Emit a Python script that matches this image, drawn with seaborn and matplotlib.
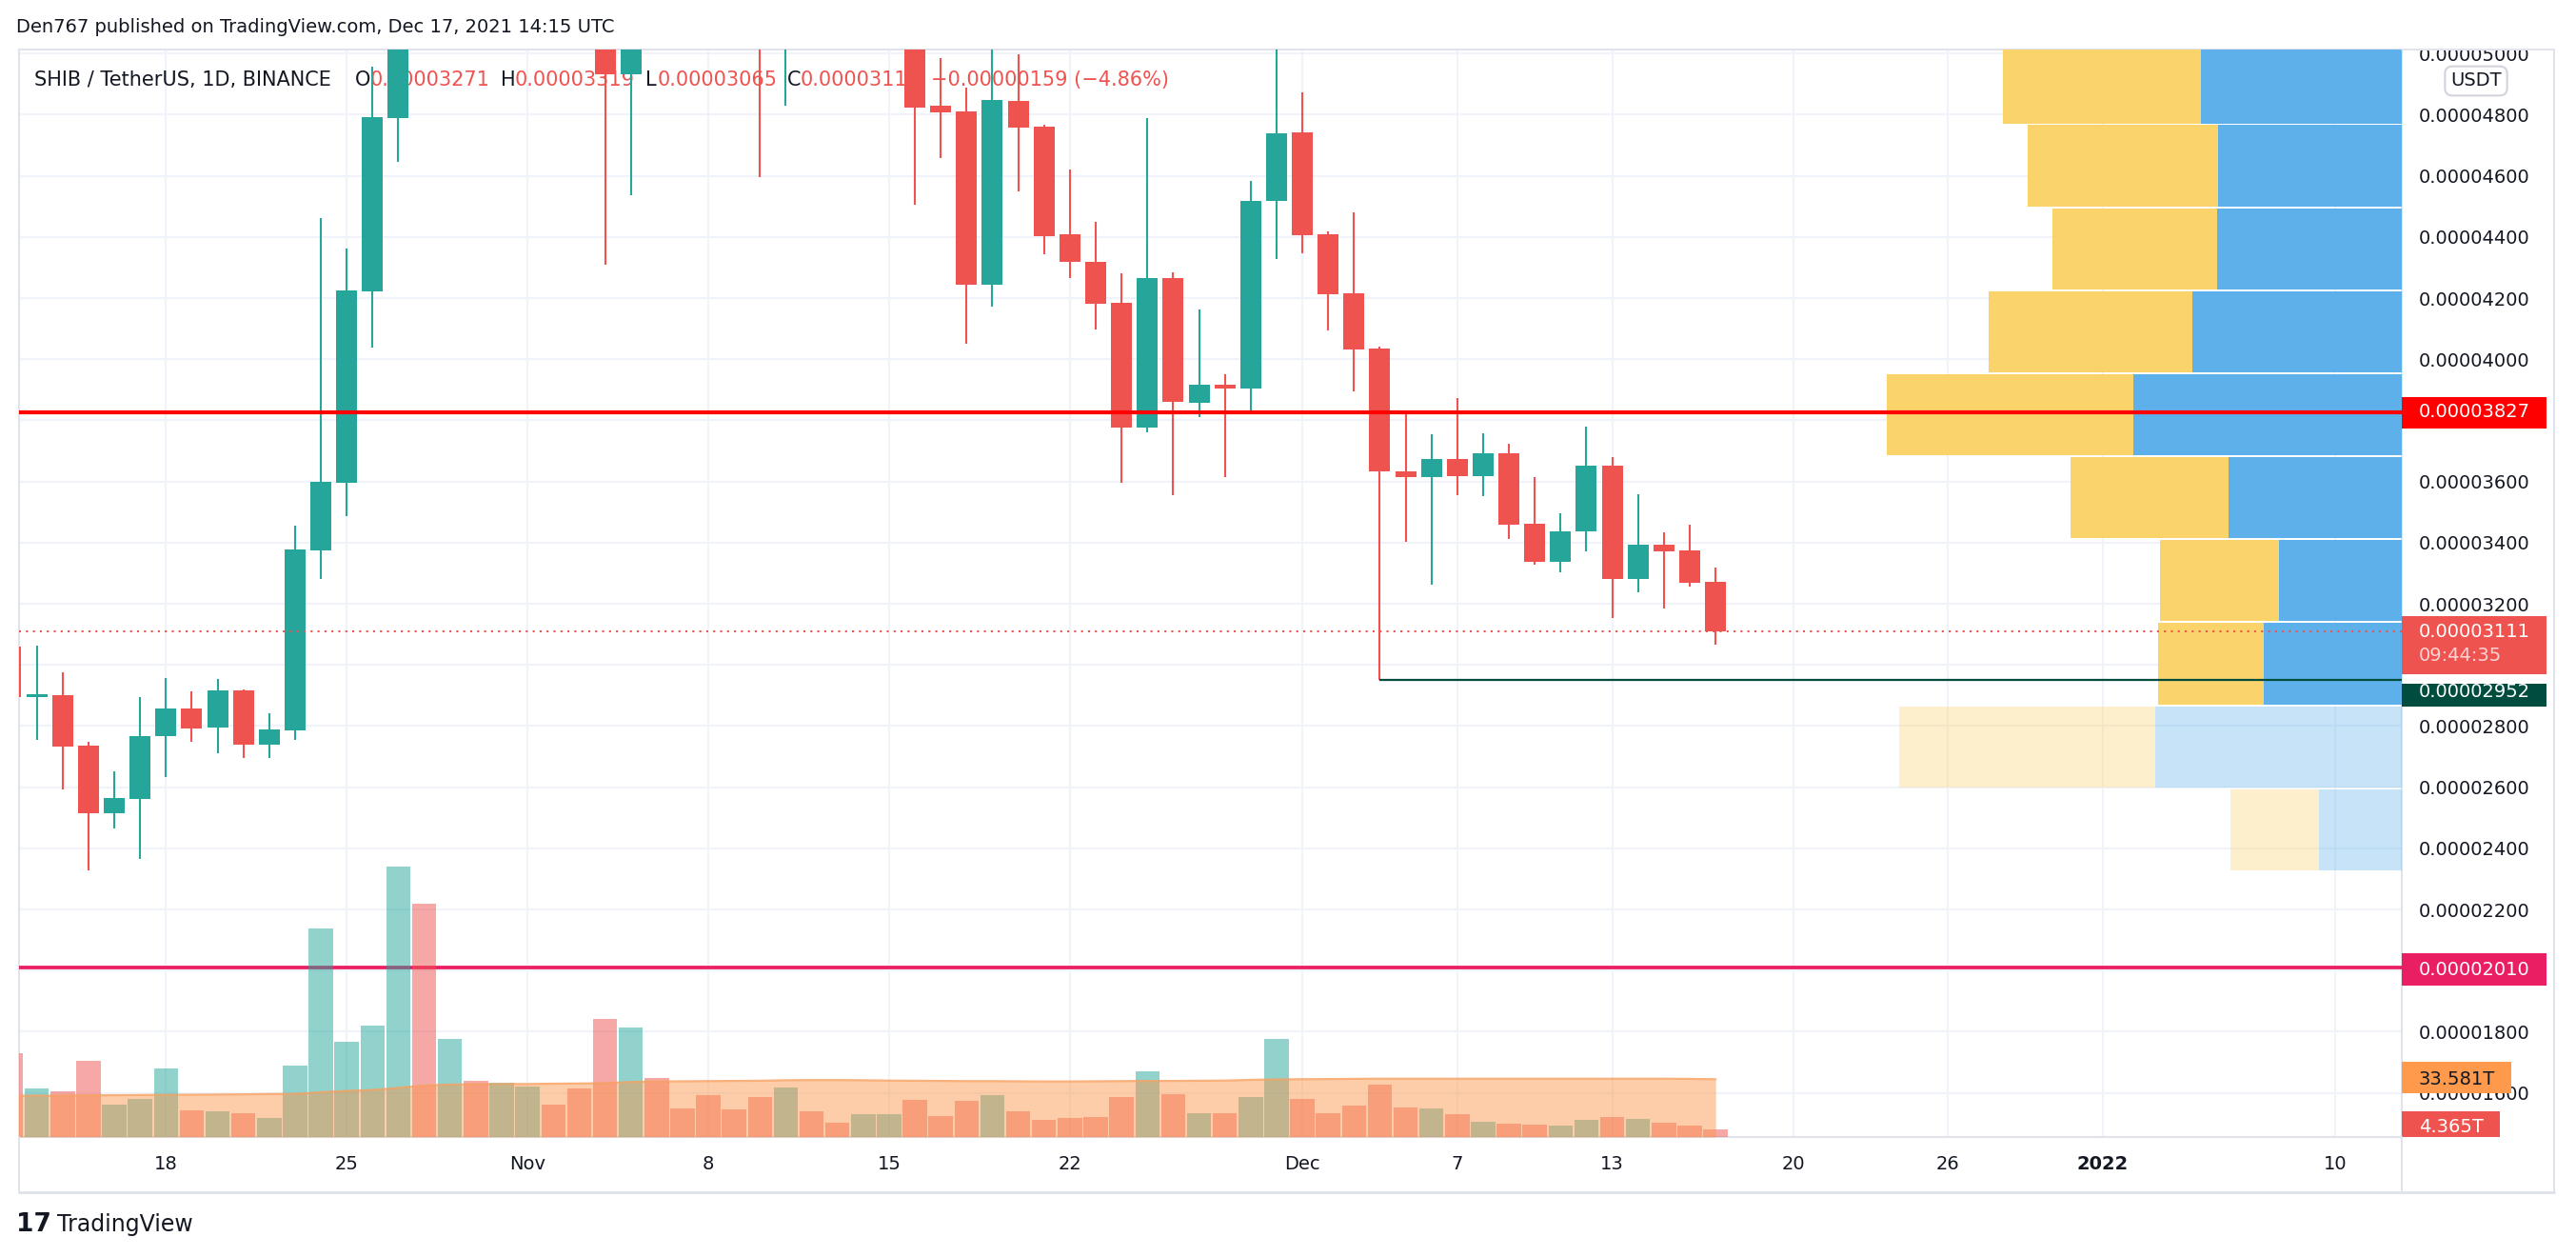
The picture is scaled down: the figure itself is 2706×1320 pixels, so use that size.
import numpy as np
import pandas as pd
import matplotlib
matplotlib.use("Agg")
import matplotlib.pyplot as plt
import matplotlib.dates as mdates
from matplotlib.lines import Line2D
from matplotlib.patches import Rectangle
from matplotlib.transforms import blended_transform_factory
import seaborn as sns

sns.set_theme(style="white")
plt.rcParams['font.family'] = ['DejaVu Sans']

# ---------------- data (prices in 1e-8 USDT, volume in trillions) ----------------
dates = pd.date_range("2021-10-12", "2021-12-17", freq="D")

open_p = [3061, 2896, 2901, 2735, 2515, 2562, 2767, 2857, 2796, 2916, 2740, 2786, 3376, 3597, 4223, 4790, 6900, 6650, 7000, 6700,
          6900, 7000, 6800, 6050, 4932, 5350, 5250, 5200, 5150, 5100, 5030, 5180, 5100, 5080, 5150, 5250, 4828, 4811, 4243, 4844,
          4761, 4409, 4319, 4184, 3776, 4266, 3857, 3917, 3904, 4517,
          4741, 4409, 4216, 4035, 3633, 3615, 3673, 3619, 3691, 3462, 3337, 3437, 3651, 3281, 3392, 3374, 3271]
high_p = [3150, 3064, 2977, 2749, 2653, 2895, 2957, 2913, 2953, 2920, 2843, 3454, 4461, 4362, 4957, 7200, 8845, 7300, 7150, 7100,
          7300, 7150, 6950, 6150, 5600, 5500, 5400, 5450, 5300, 5250, 5250, 5300, 5200, 5250, 5400, 5300, 4985, 4890, 5060, 4997,
          4768, 4620, 4449, 4281, 4789, 4285, 4164, 3950, 4583, 5060,
          4872, 4417, 4480, 4042, 3826, 3754, 3872, 3757, 3723, 3613, 3495, 3779, 3679, 3558, 3433, 3458, 3319]
low_p = [2860, 2753, 2593, 2328, 2465, 2365, 2633, 2748, 2712, 2695, 2695, 2755, 3281, 3487, 4039, 4647, 6000, 6250, 6450, 6300,
         6400, 6600, 5950, 4310, 4537, 5150, 5100, 5100, 5050, 4597, 4830, 5040, 5030, 5040, 5080, 4506, 4659, 4049, 4171, 4548,
         4344, 4266, 4097, 3597, 3761, 3555, 3811, 3613, 3828, 4328,
         4346, 4095, 3896, 2952, 3402, 3263, 3555, 3552, 3412, 3327, 3302, 3371, 3152, 3237, 3184, 3256, 3065]
close_p = [2896, 2900, 2734, 2515, 2564, 2767, 2857, 2792, 2916, 2740, 2788, 3377, 3598, 4224, 4791, 6900, 6650, 7000, 6700, 6900,
           7000, 6800, 6050, 4932, 5350, 5250, 5200, 5150, 5100, 5030, 5180, 5100, 5080, 5150, 5250, 4823, 4808, 4243, 4847, 4757,
           4402, 4319, 4181, 3776, 4266, 3860, 3917, 3905, 4517, 4739,
           4406, 4213, 4033, 3632, 3615, 3673, 3619, 3691, 3458, 3337, 3437, 3651, 3281, 3392, 3371, 3270, 3111]

volume = [48.5, 28.0, 26.4, 44.1, 18.6, 22.0, 39.7, 15.3, 14.8, 13.7, 10.9, 41.3, 121.0, 55.2, 64.6, 157.0, 135.4, 56.8, 32.5, 31.4,
          29.2, 18.6, 28.0, 68.5, 63.5, 34.1, 16.4, 24.2, 15.9, 23.1, 28.6, 14.8, 8.1, 13.1, 13.1, 21.4, 12.0, 20.8, 24.2, 14.8,
          9.8, 10.9, 11.4, 23.1, 38.0, 24.7, 13.7, 13.7, 23.1, 56.8,
          22.0, 13.7, 18.1, 30.3, 17.0, 16.4, 13.1, 8.7, 7.6, 7.0, 6.5, 9.8, 11.4, 10.3, 8.1, 6.5, 4.365]
volume_ma = [24.0, 24.0, 24.1, 24.2, 24.3, 24.4, 24.5, 24.6, 24.7, 24.8, 25.0, 25.1, 26.0, 26.8, 27.3, 28.6, 29.9, 30.5, 30.7, 30.8,
             30.8, 31.0, 31.1, 31.3, 32.0, 32.3, 32.4, 32.5, 32.6, 32.7, 33.0, 33.1, 33.1, 33.0, 32.8, 32.7, 32.6, 32.5, 32.5, 32.4,
             32.3, 32.3, 32.4, 32.5, 32.6, 32.6, 32.7, 32.8, 33.2, 33.5,
             33.6, 33.7, 33.8, 33.9, 33.9, 33.9, 33.9, 33.9, 33.9, 33.9, 33.9, 33.9, 33.9, 33.9, 33.9, 33.8, 33.581]

# visible rows of the visible-range volume profile
vp_bottom = [2328, 2599.5, 2871, 3142.5, 3414, 3685.5, 3957, 4228.5, 4500, 4771.5]
vp_step = 271.5
vp_up = [8.7, 25.9, 14.5, 12.9, 18.2, 28.2, 22.0, 19.4, 19.3, 21.1]
vp_down = [9.3, 26.9, 11.1, 12.5, 16.6, 25.9, 21.4, 17.3, 20.0, 20.8]
vp_value_area = [False, False, True, True, True, True, True, True, True, True]

tick_dates = ["2021-10-18", "2021-10-25", "2021-11-01", "2021-11-08", "2021-11-15", "2021-11-22",
              "2021-12-01", "2021-12-07", "2021-12-13", "2021-12-20", "2021-12-26", "2022-01-01", "2022-01-10"]
tick_labels = ["18", "25", "Nov", "8", "15", "22", "Dec", "7", "13", "20", "26", "2022", "10"]
price_ticks = [1600, 1800, 2000, 2200, 2400, 2600, 2800, 3000, 3200, 3400, 3600, 3800,
               4000, 4200, 4400, 4600, 4800, 5000]
covered_ticks = [2000, 3000, 3800]   # hidden behind the price tags

resistance = 3827
support = 2010
swing_low = 2952
swing_low_date = "2021-12-04"
last_close = 3111

UP = "#26A69A"
DOWN = "#EF5350"
TXT = "#131722"
BORDER = "#E0E3EB"

# ---------------- figure ----------------
W, H = 2706, 1320
fig = plt.figure(figsize=(W / 100, H / 100), dpi=100, facecolor="white")


def fx(px):
    return px / W


def fy(py):
    return 1 - py / H


pane = [fx(20), fy(1194), fx(2523) - fx(20), fy(52) - fy(1194)]
ax = fig.add_axes(pane)
ax_vp = fig.add_axes(pane, sharey=ax)
ax_vol = fig.add_axes(pane, sharex=ax)
ax_c = fig.add_axes(pane, sharex=ax, sharey=ax)

xd = mdates.date2num(dates.to_pydatetime())
o = np.array(open_p)
h = np.array(high_p)
l = np.array(low_p)
c = np.array(close_p)
colors = np.where(c >= o, UP, DOWN)

xlim = (xd[0] + 0.313, xd[0] + 92.57)
ylim = (1455.5, 5013.1)

# base pane: grid + support line + legend text
ax.set_facecolor("white")
ax.set_xticks(mdates.date2num(pd.to_datetime(tick_dates).to_pydatetime()))
ax.set_xticklabels(tick_labels)
ax.set_yticks(price_ticks)
ax.set_yticklabels(["" if v in covered_ticks else f"{v / 1e8:.8f}" for v in price_ticks])
ax.yaxis.tick_right()
ax.grid(True, color="#F0F3FA", linewidth=1.5)
ax.set_axisbelow(True)
ax.tick_params(axis="y", length=0, pad=13, labelsize=14, colors=TXT)
ax.tick_params(axis="x", length=0, pad=14, labelsize=14, colors=TXT)
ax.get_xticklabels()[tick_labels.index("2022")].set_fontweight("bold")
for s in ax.spines.values():
    s.set_color(BORDER)
    s.set_linewidth(1.5)
ax.axhline(support, color="#E91E63", lw=2.7, zorder=3)

legend_parts = [("SHIB / TetherUS, 1D, BINANCE", 36, TXT), ("O", 373, TXT), ("0.00003271", 389, DOWN),
                ("H", 526, TXT), ("0.00003319", 541, DOWN), ("L", 678, TXT), ("0.00003065", 691, DOWN),
                ("C", 827, TXT), ("0.0000311", 841, DOWN), ("\u22120.00000159 (\u22124.86%)", 978, DOWN)]
for txt, px, col in legend_parts:
    ax.text(fx(px), fy(84), txt, transform=fig.transFigure, color=col, fontsize=15, va="center", ha="left")

# volume profile (right side)
ax_vp.axis("off")
up_cols = [(0.365, 0.69, 0.918, 1.0 if v else 0.35) for v in vp_value_area]
dn_cols = [(0.98, 0.827, 0.416, 1.0 if v else 0.35) for v in vp_value_area]
ax_vp.barh(vp_bottom, vp_up, height=vp_step - 6, align="edge", color=up_cols, lw=0)
ax_vp.barh(vp_bottom, vp_down, left=vp_up, height=vp_step - 6, align="edge", color=dn_cols, lw=0)
ax_vp.set_xlim(250.3, 0)

# volume with moving average area
ax_vol.axis("off")
ax_vol.bar(xd, volume, width=0.94, color=colors, alpha=0.5, lw=0)
ax_vol.fill_between(xd, volume_ma, 0, color="#FB9446", alpha=0.46, lw=0)
sns.lineplot(x=xd, y=volume_ma, ax=ax_vol, color="#F7A05F", lw=1.6, alpha=0.8)
ax_vol.set_ylim(0, 632)

# candles and price lines
ax_c.axis("off")
ax_c.vlines(xd, l, h, colors=colors, lw=1.5, zorder=2)
ax_c.bar(xd, np.maximum(np.abs(c - o), 7), bottom=np.minimum(o, c), width=0.81, color=colors, lw=0, zorder=3)
ax_c.axhline(resistance, color="#FF0000", lw=3, zorder=4)
ax_c.hlines(swing_low, mdates.date2num(pd.Timestamp(swing_low_date).to_pydatetime()), xlim[1],
            color="#004D40", lw=1.6, zorder=4)
ax_c.axhline(last_close, color=DOWN, lw=1.5, ls=(0, (1, 2.5)), zorder=4)

ax.set_xlim(*xlim)
ax.set_ylim(*ylim)
ax_vol.set_ylim(0, 632)


def tag(axis, value, text, face, fg="white", up_px=16, down_px=17, w_px=152, text_dy=0):
    tr = blended_transform_factory(ax.transAxes, axis.transData)
    y0, y1 = axis.get_ylim()
    per_px = (y1 - y0) / axis.bbox.height
    ax_c.add_patch(Rectangle((1.0, value - down_px * per_px), w_px / ax.bbox.width, (up_px + down_px) * per_px,
                             transform=tr, facecolor=face, edgecolor="none", clip_on=False, zorder=20))
    ax_c.text(1.0 + 18 / ax.bbox.width, value - text_dy * per_px, text, transform=tr, color=fg, fontsize=14,
              va="center", ha="left", clip_on=False, zorder=21)
    return tr, per_px


tag(ax, resistance, f"{resistance / 1e8:.8f}", "#FF0000", up_px=15.7, down_px=17.3)
tr, per_px = tag(ax, last_close, f"{last_close / 1e8:.8f}", DOWN, up_px=15.6, down_px=45.4, text_dy=1)
ax_c.text(1.0 + 18 / ax.bbox.width, last_close - 26 * per_px, "09:44:35", transform=tr, color="#FAD4D4",
          fontsize=14, va="center", ha="left", clip_on=False, zorder=21)
tag(ax, swing_low, f"{swing_low / 1e8:.8f}", "#004D40", up_px=-4.6, down_px=28.4, text_dy=13)
tag(ax, support, f"{support / 1e8:.8f}", "#E91E63", up_px=15, down_px=19, text_dy=2)
tag(ax_vol, volume_ma[-1], f"{volume_ma[-1]:.3f}T", "#FF9A4C", fg=TXT,
    up_px=18.3, down_px=14.7, w_px=115)
tag(ax_vol, volume[-1], f"{volume[-1]:.3f}T", DOWN, up_px=19, down_px=8, w_px=103, text_dy=-3)

# mask above the pane in the price-axis column, frame lines, header texts
fig.add_artist(Rectangle((fx(2523), fy(52)), fx(2706) - fx(2523), 52 / H, transform=fig.transFigure,
                         facecolor="white", edgecolor="none", zorder=5))
frame = [((20, 1252), (2683, 1252), 3), ((2683, 52), (2683, 1252), 2), ((2523, 52), (2683, 52), 2),
         ((2523, 1194), (2523, 1252), 2), ((20, 1194), (20, 1252), 2)]
for (x1, y1), (x2, y2), lw in frame:
    fig.add_artist(Line2D([fx(x1), fx(x2)], [fy(y1), fy(y2)], transform=fig.transFigure,
                          color=BORDER, lw=lw * 0.72, zorder=6))

fig.text(fx(2601), fy(85), "USDT", ha="center", va="center", fontsize=14, color=TXT, zorder=30,
         bbox=dict(boxstyle="round,pad=0.3,rounding_size=0.4", fc="white", ec="#D1D4DC", lw=1.5))
fig.text(fx(17), fy(29), "Den767 published on TradingView.com, Dec 17, 2021 14:15 UTC",
         ha="left", va="center", fontsize=14, color=TXT)
fig.text(fx(17), fy(1286), "17", ha="left", va="center", fontsize=19, fontweight="heavy", color=TXT)
fig.text(fx(60), fy(1286), "TradingView", ha="left", va="center", fontsize=17, color=TXT)

fig.savefig("out.png", dpi=100, facecolor="white")
